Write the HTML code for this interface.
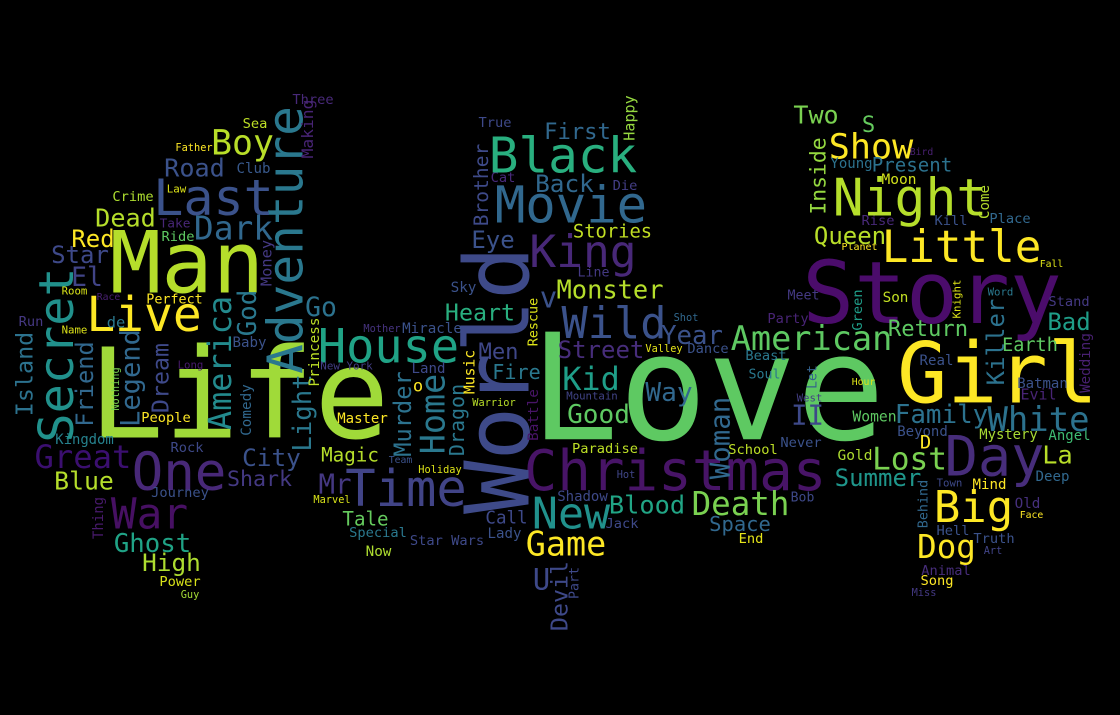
<!DOCTYPE html>
<html>
<head>
<meta charset="utf-8">
<style>
  html,body{margin:0;padding:0;background:#000;}
  #cloud{position:relative;width:1120px;height:715px;background:#000;overflow:hidden;}
  .w{position:absolute;white-space:nowrap;line-height:1;font-family:"DejaVu Sans Mono","Liberation Mono",monospace;transform-origin:50% 50%;}
</style>
</head>
<body>
<div id="cloud"></div>
<script>
// word, bounding box [x1,y1,x2,y2], colour, vertical flag
const words = ["Love","Life","Man","Story","Girl","Christmas","World","Time","One","War","Great","Blue","Ghost","High","Power","Guy","Journey","Rock","Comedy","Thing","Kingdom","People","Nothing","Legend","Friend","Island","Secret","Dream","America","God","Adventure","Money","Making","Light","Princess","Live","Perfect","de","Run","Name","Race","Room","El","Star","Red","Dead","Crime","Road","Last","Boy","Dark","Take","Ride","Law","Club","Sea","Father","Three","Long","Baby","Go","House","Mr","Murder","Home","Dragon","Mother","New York","Miracle","Land","o","Magic","Master","Shark","City","Team","Holiday","Marvel","Tale","Special","Now","Star Wars","Call","Lady","Men","Fire","Heart","Sky","Music","Warrior","Battle","Rescue","Eye","Brother","Cat","True","Black","First","Happy","Back","Die","Movie","King","Stories","v","Monster","Line","Wild","Street","Kid","Good","Way","Year","American","Valley","Dance","Mountain","Paradise","Hot","Shadow","Devil","Part","U","New","Game","Jack","Blood","Death","Space","End","Woman","School","Shot","Party","Meet","Let","Beast","Soul","West","II","Never","Bob","Summer","Women","Gold","Hour","Real","Return","Son","Green","Lost","Family","Beyond","D","Day","Big","Dog","Mind","Hell","Truth","Art","Animal","Song","Miss","Behind","Town","Face","Old","Deep","La","Mystery","Angel","White","Batman","Evil","Earth","Bad","Stand","Wedding","Killer","Knight","Word","Fall","Place","Come","Kill","Rise","Planet","Little","Queen","Night","Inside","Two","S","Show","Present","Young","Moon","Bird"];
const boxes = [[535,325,880,452],[93,340,385,452],[112,230,262,298],[806,250,1058,338],[900,340,1095,408],[528,445,822,498],[465,250,530,510],[347,465,465,512],[133,450,225,495],[112,495,187,535],[36,442,130,472],[55,470,113,494],[115,533,190,557],[143,550,200,575],[160,575,200,590],[181,590,199,600],[152,487,208,500],[171,442,203,456],[240,385,253,435],[92,497,105,538],[56,436,113,445],[142,411,190,426],[111,368,120,410],[117,330,145,425],[75,342,97,425],[14,333,36,415],[38,270,75,440],[150,344,172,412],[205,298,237,428],[238,290,260,335],[267,110,305,370],[260,240,273,285],[300,100,316,157],[293,375,315,450],[308,318,322,385],[88,295,200,337],[147,293,202,307],[108,316,124,330],[19,316,43,330],[62,326,87,336],[97,293,120,302],[62,287,87,296],[74,266,100,290],[52,243,108,267],[72,228,114,250],[96,205,155,230],[113,190,153,205],[165,155,224,180],[155,170,272,225],[212,127,273,160],[195,212,272,246],[160,218,190,232],[162,231,194,245],[167,185,186,195],[237,162,270,176],[243,118,267,131],[176,144,212,152],[293,94,333,107],[178,361,203,370],[233,336,266,349],[306,296,336,320],[320,325,457,370],[320,472,350,497],[393,372,415,455],[418,375,447,453],[445,385,468,455],[364,324,400,333],[321,362,372,371],[403,322,461,336],[412,362,445,376],[413,381,423,393],[322,446,378,463],[338,412,387,425],[228,470,291,490],[243,443,300,473],[389,456,412,465],[419,465,461,474],[314,495,350,504],[343,508,388,530],[350,527,406,540],[366,545,391,558],[411,535,483,548],[486,510,527,527],[488,527,521,540],[479,343,518,361],[493,362,540,381],[446,301,514,324],[451,281,476,295],[464,350,478,393],[473,398,515,408],[527,390,541,440],[527,298,541,345],[472,230,514,250],[472,145,492,225],[491,172,515,185],[479,117,511,131],[491,133,635,178],[545,121,610,143],[623,96,637,140],[536,173,593,195],[613,181,637,193],[497,182,645,230],[531,231,635,275],[574,224,651,242],[540,286,557,310],[558,278,662,302],[578,266,609,280],[563,305,665,345],[559,339,643,361],[563,365,619,395],[568,404,629,426],[646,380,692,406],[662,326,722,348],[733,322,890,355],[646,344,682,353],[688,343,728,357],[567,392,617,401],[573,443,637,457],[617,470,635,479],[558,490,607,503],[549,562,571,630],[569,567,581,598],[533,568,550,592],[533,495,609,535],[527,527,605,560],[606,518,638,531],[610,493,684,516],[693,488,788,520],[710,514,770,533],[739,533,763,546],[710,398,732,478],[729,444,777,458],[674,314,698,322],[768,313,808,326],[788,290,819,302],[806,365,820,388],[746,350,786,363],[749,368,780,382],[797,394,822,404],[795,403,820,428],[781,436,821,452],[791,491,814,504],[836,466,920,489],[853,411,896,424],[838,449,872,462],[852,378,875,387],[920,354,953,368],[889,318,967,340],[883,291,908,304],[852,290,866,330],[873,446,946,474],[896,403,987,428],[898,425,947,438],[920,437,931,450],[946,430,1043,485],[935,485,1012,530],[918,531,975,562],[973,478,1006,492],[937,525,969,538],[974,533,1014,547],[984,547,1002,555],[922,565,970,578],[921,575,953,588],[912,589,936,596],[916,480,931,527],[937,480,962,488],[1020,512,1043,520],[1015,497,1040,510],[1036,470,1069,484],[1043,443,1072,466],[980,429,1037,443],[1049,429,1090,443],[989,404,1088,435],[1018,377,1067,391],[1021,388,1056,402],[1003,336,1057,356],[1048,310,1090,333],[1049,296,1089,310],[1079,334,1093,392],[984,300,1007,384],[952,280,964,318],[988,288,1013,297],[1040,261,1063,269],[990,213,1030,227],[978,185,992,218],[935,215,967,229],[862,215,894,229],[842,243,877,252],[884,228,1039,268],[815,224,885,248],[835,175,985,222],[808,138,830,213],[794,103,838,127],[862,115,875,134],[830,130,912,163],[873,155,951,174],[831,156,872,171],[882,173,916,187],[910,149,933,157]];
const colors = ["#5ec962","#a0da39","#b5de2b","#4b0c6b","#fde725","#481467","#3e4a89","#414487","#482878","#471063","#3b0f70","#b5de2b","#20a386","#addc30","#d8e219","#a5db36","#3b528b","#3e4989","#31688e","#481a6c","#26828e","#fde725","#7ad151","#31688e","#31688e","#2c728e","#21918c","#3e4989","#238a8d","#2a788e","#2a788e","#443983","#482475","#2a788e","#bddf26","#fde725","#fde725","#2a788e","#453882","#dde318","#482071","#d8e219","#414487","#3e4989","#fde725","#b5de2b","#addc30","#3b528b","#3b528b","#b8de29","#31688e","#482677","#5ec962","#dde318","#38598c","#bddf26","#fde725","#482979","#481b6d","#3b528b","#2c728e","#20a386","#453882","#2c728e","#2a788e","#2a788e","#46337f","#433e85","#3b528b","#3e4989","#fde725","#b5de2b","#fde725","#443983","#3b528b","#3b528b","#dde318","#d8e219","#65cb5e","#2a788e","#addc30","#3e4989","#3e4989","#3b528b","#3f4788","#2a788e","#29af7f","#3b528b","#fde725","#b8de29","#481467","#dde318","#3b528b","#3e4a89","#482979","#3e4989","#29af7f","#31688e","#95d840","#31688e","#433e85","#31688e","#482878","#c2df23","#3b528b","#b5de2b","#443983","#3b528b","#472d7b","#1f9e89","#5ec962","#31688e","#3b528b","#5ec962","#e5e419","#3b528b","#414487","#bddf26","#404688","#3e4989","#3e4989","#3e4989","#3e4989","#21918c","#fde725","#3e4989","#21a585","#7ad151","#31688e","#e5e419","#31688e","#bddf26","#31688e","#482475","#443983","#34618d","#2a788e","#2a788e","#433e85","#3e4989","#3b528b","#3e4989","#1f968b","#5ec962","#addc30","#dde318","#3b528b","#5ec962","#c2df23","#1f9e89","#7ad151","#2c728e","#3b528b","#fde725","#472d7b","#fde725","#fde725","#fde725","#3b528b","#3b528b","#414487","#472d7b","#fde725","#443983","#31688e","#3e4989","#fde725","#46307e","#31688e","#b8de29","#a8db34","#3fbc73","#2c728e","#3b528b","#482475","#5ec962","#1f9e89","#443983","#482071","#2c728e","#dde318","#2a788e","#dde318","#31688e","#b5de2b","#3b528b","#482979","#fde725","#fde725","#b8de29","#b5de2b","#95d840","#7ad151","#65cb5e","#fde725","#2c728e","#2c728e","#d2e21b","#482071"];
const vertical = ["World","Comedy","Thing","Nothing","Legend","Friend","Island","Secret","Dream","America","God","Adventure","Money","Making","Light","Princess","Murder","Home","Dragon","Music","Battle","Rescue","Brother","Happy","Devil","Part","Woman","Let","Green","Behind","Wedding","Killer","Knight","Come","Inside"];

const cloud = document.getElementById('cloud');
words.forEach((txt, i) => {
  const b = boxes[i];
  const v = vertical.includes(txt);
  const len = v ? (b[3]-b[1]) : (b[2]-b[0]);
  const thick = v ? (b[2]-b[0]) : (b[3]-b[1]);
  let size = len / (0.602 * txt.length) * 1.03;
  if (txt.length <= 2) size = Math.max(size, thick * 1.1);
  const cx = (b[0]+b[2])/2, cy = (b[1]+b[3])/2;
  const el = document.createElement('div');
  el.className = 'w';
  el.textContent = txt;
  el.style.fontSize = size.toFixed(1) + 'px';
  el.style.color = colors[i];
  el.style.left = cx + 'px';
  el.style.top = cy + 'px';
  el.style.transform = 'translate(-50%,-50%)' + (v ? ' rotate(-90deg)' : '');
  
  
  cloud.appendChild(el);
});
</script>
</body>
</html>
